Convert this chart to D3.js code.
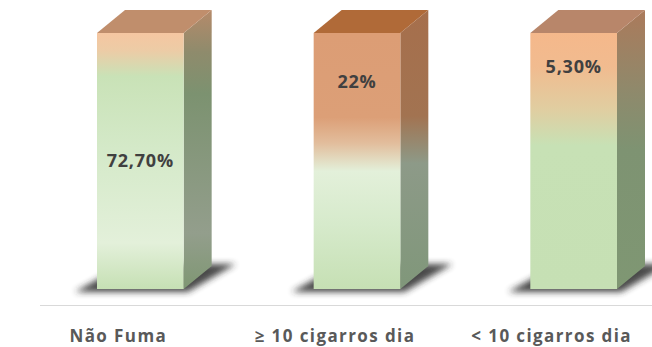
<!DOCTYPE html>
<html>
<head>
<meta charset="utf-8">
<script src="https://cdn.jsdelivr.net/npm/d3@7"></script>
<style>
    body { margin: 0; background: #fff; }
    svg { display: block; }
    .cat { font-family: "Open Sans", sans-serif; font-weight: 700; font-size: 17px; fill: #595959; letter-spacing: 1.4px; }
    .val { font-family: "Open Sans", sans-serif; font-weight: 700; font-size: 18px; fill: #404040; letter-spacing: 0.8px; }
</style>
</head>
<body>
<svg id="chart" width="652" height="347"></svg>
<script>
    // data
    const categories = ["Não Fuma", "≥ 10 cigarros dia", "< 10 cigarros dia"];
    const values = [72.7, 22, 5.3];
    const valueLabels = ["72,70%", "22%", "5,30%"];
    const total = 100;

    // styling: where the label sits inside the bar (fraction from top) and the face fills
    const labelPos = [0.5, 0.19, 0.13];
    const frontStops = [
        [[0, "#f5c6a1"], [0.07, "#eccca6"], [0.17, "#c9e2b7"], [0.45, "#d4e9c8"], [0.82, "#e3f0da"], [1, "#c6e0b4"]],
        [[0, "#dc9d75"], [0.33, "#dc9f77"], [0.43, "#e2bd9c"], [0.54, "#e3f0da"], [0.75, "#d6eacb"], [1, "#c6e0b4"]],
        [[0, "#f5b88b"], [0.13, "#f1bb8f"], [0.3, "#e0cea1"], [0.44, "#c7e1b5"], [1, "#c6e0b4"]]
    ];
    const sideStops = [
        [[0, "#b58a6a"], [0.15, "#8f8b6c"], [0.3, "#7c9270"], [0.8, "#939e8c"], [1, "#7f9773"]],
        [[0, "#a66f4c"], [0.38, "#a27351"], [0.55, "#8d9a88"], [1, "#80977a"]],
        [[0, "#ab7a5b"], [0.3, "#8e8a6c"], [0.5, "#7e9372"], [1, "#7f9773"]]
    ];
    const topFill = ["#c08e6c", "#b06a38", "#b8866a"];

    const svg = d3.select("#chart");
    const defs = svg.append("defs");

    const depth = {"dx": 28, "dy": 23};

    const x = d3.scaleBand()
        .domain(categories)
        .range([32, 682])
        .paddingInner(0.6)
        .paddingOuter(0.3);

    const y = d3.scaleLinear()
        .domain([0, total])
        .range([289, 33]);

    // blur for the floor shadow
    defs.append("filter").attr("id", "blur")
        .attr("x", "-20%").attr("y", "-50%").attr("width", "140%").attr("height", "200%")
        .append("feGaussianBlur").attr("stdDeviation", 3);

    const addGradient = (id, stops) => {
        const g = defs.append("linearGradient").attr("id", id)
            .attr("x1", 0).attr("y1", 0).attr("x2", 0).attr("y2", 1);
        g.selectAll("stop").data(stops).join("stop")
            .attr("offset", d => d[0])
            .attr("stop-color", d => d[1]);
    };
    categories.forEach((c, i) => {
        addGradient("front" + i, frontStops[i]);
        addGradient("side" + i, sideStops[i]);
    });

    // baseline
    svg.append("line")
        .attr("x1", 40).attr("x2", 652)
        .attr("y1", 305.5).attr("y2", 305.5)
        .attr("stroke", "#d9d9d9").attr("stroke-width", 1);

    const bars = svg.selectAll("g.bar")
        .data(categories)
        .join("g")
        .attr("class", "bar");

    // shadow
    bars.append("polygon")
        .attr("points", (d, i) => {
            const x0 = x(d), x1 = x(d) + x.bandwidth(), yb = y(0);
            return [[x0 - 22, yb + 3], [x1 + 4, yb + 3], [x1 + depth.dx + 24, yb - depth.dy - 2], [x0 + depth.dx, yb - depth.dy - 2]]
                .map(p => p.join(",")).join(" ");
        })
        .attr("fill", "#2b2b2b")
        .attr("opacity", 0.85)
        .attr("filter", "url(#blur)");

    // side face
    bars.append("polygon")
        .attr("points", (d, i) => {
            const x1 = x(d) + x.bandwidth(), yt = y(total), yb = y(0);
            return [[x1, yt], [x1 + depth.dx, yt - depth.dy], [x1 + depth.dx, yb - depth.dy], [x1, yb]]
                .map(p => p.join(",")).join(" ");
        })
        .attr("fill", (d, i) => "url(#side" + i + ")");

    // top face
    bars.append("polygon")
        .attr("points", (d, i) => {
            const x0 = x(d), x1 = x(d) + x.bandwidth(), yt = y(total);
            return [[x0, yt], [x0 + depth.dx, yt - depth.dy], [x1 + depth.dx, yt - depth.dy], [x1, yt]]
                .map(p => p.join(",")).join(" ");
        })
        .attr("fill", (d, i) => topFill[i]);

    // front face
    bars.append("rect")
        .attr("x", d => x(d))
        .attr("y", y(total))
        .attr("width", x.bandwidth())
        .attr("height", y(0) - y(total))
        .attr("fill", (d, i) => "url(#front" + i + ")");

    // value labels
    bars.append("text")
        .attr("class", "val")
        .attr("x", d => x(d) + x.bandwidth() / 2)
        .attr("y", (d, i) => y(total) + (y(0) - y(total)) * labelPos[i])
        .attr("dy", "0.36em")
        .attr("text-anchor", "middle")
        .text((d, i) => valueLabels[i]);

    // category labels, centred a little left of the front face
    svg.selectAll("text.cat")
        .data(categories)
        .join("text")
        .attr("class", "cat")
        .attr("x", d => x(d) + x.bandwidth() / 2 - 22)
        .attr("y", 342)
        .attr("text-anchor", "middle")
        .text(d => d);
</script>
</body>
</html>
